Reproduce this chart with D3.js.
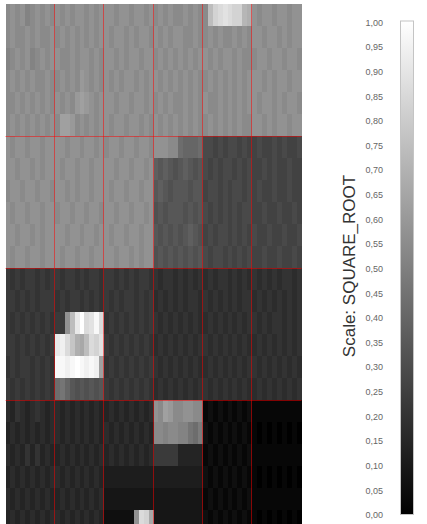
<!DOCTYPE html>
<html>
<head>
<meta charset="utf-8">
<script src="https://cdn.jsdelivr.net/npm/d3@7"></script>
<style>
  html, body { margin: 0; padding: 0; background: #fff; }
  svg { display: block; }
</style>
</head>
<body>
<div id="chart"></div>
<script>
// Cell gray levels, one char per cell (base 36: '0' = black ... 'z' = white).
// 24 rows x 60 columns, grouped in blocks of 10 columns for readability.
const cellRows = [
  "jkjkijkjkj kjkjkkjkjk kkjkkjkkjk jkjkjjkjkj jqtuvuttpo kjkkjkkjkk",
  "jkjjkjkjjk jkjkjkjkjk kjkkjkjkkj kjkjkkjjkj jkjkjjkjkj kkjkkjkjkk",
  "ijkjkijkjk kjjkjkkjkj kkjkjkkjkk jkjkjkjkjk kjkjkkjkjj jkkjkkjkkj",
  "jkjkjkjjkj jkjkjlkjkj kjkjkkjkjk kjkjkjkjkj jkjkjkjkjk kkjkjkkjkk",
  "jjkjkjkjkj kjkjlmlkjk kkjkkjkkjk jkjkjjkjkj kjjkjkjkjk kjkkjkjkkj",
  "jkjkjkjkjk jmmljkjkjk kjkkjkkjkj kjkjkjkjkj jkjkjkjkjj kkjkjkkjkk",
  "kjkkjkkjkk kkjkkjkkjk jkkjkkjkkj kkkjjfeeef aa9a9aa9a9 9a99a9a99a",
  "kkjkkjkjkk kjkkjkkjkk kkjkkjkkjk dcdcbcdcbc a9a9aa9a9a 99a9a99a99",
  "jkkjkkjkkj kkjkjkkjkk kjkkjkkjkk cdcbcccbcc 9aa9a9aa9a 9a99a99a99",
  "kjkkjkkjkk jkkjkkjkkj kkjkkjkkjk bcbcccbcbc a9a9a9a9aa 99a99a99a9",
  "kkjkkjkjkk kkjkkjkkjk kjkkjkkjkk cbcbcbcdcb 9a9aa9a9a9 a99a99a99a",
  "kjkkjkkjkk kjkkjkkjkk kkjkkjkjkk bcbcbcbcbc a9aa9a9a9a 99a99a99a9",
  "8787887878 8788787887 8878787887 7677676767 6767767676 7676767767",
  "8878787888 7878878787 8787887878 6767676776 7676767677 6767676767",
  "8787878787 88kqwzuvyu 7878787878 7676767676 6767676767 7676776767",
  "8878787878 wxuronqutv 8787878787 6767676767 7676767676 6767676767",
  "7878878787 yyxyzyxyxm 7878787878 7676767676 6767676767 7676767676",
  "8787878787 fgecbcbcbc 8787878787 6767676767 7676767676 6767676767",
  "6576567656 6565656565 5656565656 kjmljjkkjj 1212121212 1111111111",
  "5656565656 6565656565 6565656565 jjijjiigfh 2121212121 1010101010",
  "6565757565 5656565656 5656565656 8888855555 1212121212 1111111111",
  "5656565656 6565656565 4444444444 4444444444 2121212121 1010101010",
  "6565656565 5656565656 3333333333 3333333333 1212121212 1111111111",
  "5656565656 6565656565 222222kutn 3333333333 2121212121 1010101010"
];
const levelMax = 35;
const blockCols = 6;      // red grid: 6 x 4 blocks
const blockRows = 4;
const legendTicks = d3.range(0, 21).map(i => i / 20);
const scaleLabel = "Scale: SQUARE_ROOT";

const width = 427, height = 524;

// Parse cells
const cells = [];
cellRows.forEach((row, r) => {
    row.replace(/ /g, '').split('').forEach((ch, c) => {
        cells.push({ row: r, col: c, value: parseInt(ch, 36) / levelMax });
    });
});
const nCols = cellRows[0].replace(/ /g, '').length;
const nRows = cellRows.length;

// Scales
const x = d3.scaleBand(d3.range(nCols), [5.5, 301.5]);
const y = d3.scaleBand(d3.range(nRows), [4, 4 + nRows * 22]);
const color = d3.scaleLinear([0, 1], ['#000', '#fff']);
const yLegend = d3.scaleLinear([0, 1], [515, 22.5]);
const fmt = d3.formatLocale({ decimal: ',', thousands: '.', grouping: [3], currency: ['', ''] }).format('.2f');

const svg = d3.select('#chart').append('svg')
    .attr('width', width)
    .attr('height', height);

// Heatmap cells
svg.append('g').attr('shape-rendering', 'crispEdges')
    .selectAll('rect').data(cells)
    .join('rect')
    .attr('x', d => x(d.col))
    .attr('y', d => y(d.row))
    .attr('width', x.bandwidth() + 0.5)
    .attr('height', y.bandwidth())
    .attr('fill', d => color(d.value));

// Red block grid
const perBlockCol = nCols / blockCols, perBlockRow = nRows / blockRows;
const grid = svg.append('g').attr('stroke', 'red').attr('stroke-opacity', 0.5).attr('stroke-width', 1);
grid.selectAll('line.v').data(d3.range(1, blockCols))
    .join('line').attr('class', 'v')
    .attr('x1', i => Math.round(x(i * perBlockCol)) - 0.5)
    .attr('x2', i => Math.round(x(i * perBlockCol)) - 0.5)
    .attr('y1', y.range()[0])
    .attr('y2', height);
grid.selectAll('line.h').data(d3.range(1, blockRows))
    .join('line').attr('class', 'h')
    .attr('y1', i => Math.round(y(i * perBlockRow)) + 0.5)
    .attr('y2', i => Math.round(y(i * perBlockRow)) + 0.5)
    .attr('x1', x.range()[0])
    .attr('x2', x.range()[1]);

// Legend gradient bar
const grad = svg.append('defs').append('linearGradient')
    .attr('id', 'legendGrad')
    .attr('x1', 0).attr('y1', 1).attr('x2', 0).attr('y2', 0);
grad.selectAll('stop').data([0, 1])
    .join('stop')
    .attr('offset', d => d)
    .attr('stop-color', d => color(d));

svg.append('rect')
    .attr('x', 400.5)
    .attr('y', yLegend(1) - 1.5)
    .attr('width', 13)
    .attr('height', yLegend(0) - yLegend(1) + 1)
    .attr('fill', 'url(#legendGrad)')
    .attr('stroke', '#c4c4c4');

// Legend tick labels
svg.append('g').selectAll('text').data(legendTicks)
    .join('text')
    .attr('x', 383)
    .attr('y', d => yLegend(d))
    .attr('dy', '0.35em')
    .attr('text-anchor', 'end')
    .attr('font-family', 'Liberation Sans, Arial, sans-serif')
    .attr('font-size', 9)
    .attr('fill', '#666')
    .text(d => fmt(d));

// Scale label
svg.append('text')
    .attr('transform', 'translate(355, 266) rotate(-90)')
    .attr('text-anchor', 'middle')
    .attr('font-family', 'Liberation Sans, Arial, sans-serif')
    .attr('font-size', 17)
    .attr('fill', '#333')
    .text(scaleLabel);
</script>
</body>
</html>
